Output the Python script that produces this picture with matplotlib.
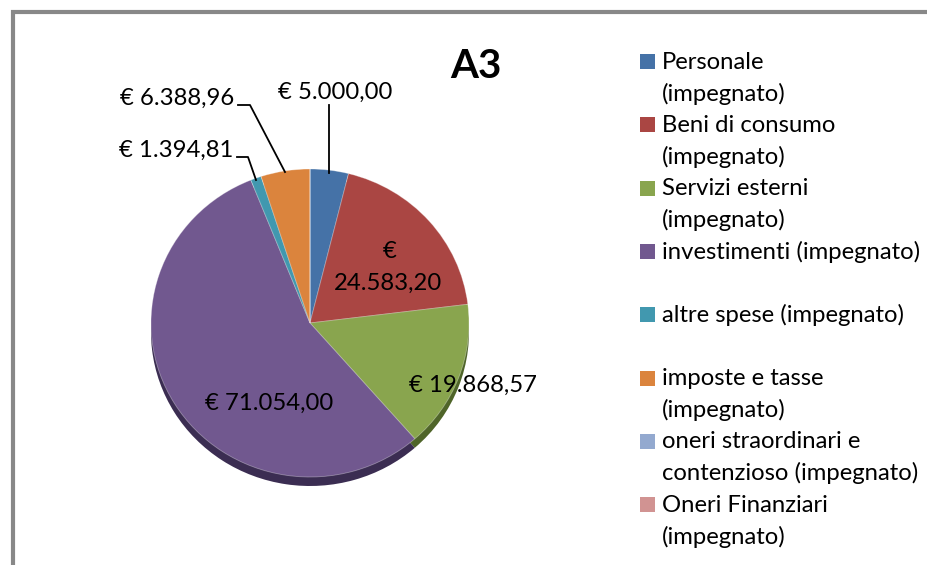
import matplotlib
matplotlib.use("Agg")
import matplotlib.pyplot as plt
from matplotlib.patches import Rectangle

# data (impegnato, in euro)
categories = [
    "Personale\n(impegnato)",
    "Beni di consumo\n(impegnato)",
    "Servizi esterni\n(impegnato)",
    "investimenti (impegnato)",
    "altre spese (impegnato)",
    "imposte e tasse\n(impegnato)",
    "oneri straordinari e\ncontenzioso (impegnato)",
    "Oneri Finanziari\n(impegnato)",
]
values = [5000.00, 24583.20, 19868.57, 71054.00, 1394.81, 6388.96, 0.0, 0.0]
title = "A3"

colors = ["#4572A7", "#AA4643", "#89A54E", "#71588F", "#4198AF", "#DB843D", "#93A9CF", "#D19392"]
dark = ["#2B4669", "#6A2B29", "#4F6529", "#3B2D52", "#245C6B", "#8A5124", "#5C6C85", "#85595A"]

W, H = 928, 565
K = 159 / 154  # squash to get the slight 3D tilt


def py(y):
    # pixel row -> data y
    return (H - y) * K


def eur(v):
    s = f"{v:,.2f}".replace(",", "#").replace(".", ",").replace("#", ".")
    return "€ " + s


plt.rcParams['font.family'] = ['Lato', 'DejaVu Sans']

fig = plt.figure(figsize=(W / 100, H / 100), dpi=100)
ax = fig.add_axes([0, 0, 1, 1])

cx, cy, R = 310, 323, 159
# shadow / side of the pie
ax.pie(values, colors=dark, startangle=90, counterclock=False, radius=R,
       center=(cx, py(cy + 9)), wedgeprops=dict(linewidth=0))
ax.pie(values, colors=colors, startangle=90, counterclock=False, radius=R,
       center=(cx, py(cy)), wedgeprops=dict(linewidth=0.6, edgecolor=(1, 1, 1, 0.35)))

ax.set_aspect('auto')
ax.set_xlim(0, W)
ax.set_ylim(0, H * K)
ax.axis('off')

# frame of the chart area
ax.plot([13, 13, W + 10], [py(H + 10), py(12), py(12)], color="#888888", lw=3,
        solid_joinstyle='miter', clip_on=False)

ax.text(476, py(66), title, ha='center', va='center', fontsize=29, fontweight='bold')

# data labels
fs = 17.2
ax.text(335, py(92), eur(values[0]), ha='center', va='center', fontsize=fs)
ax.plot([329, 329], [py(105), py(173)], color='black', lw=1.3)
ax.text(390, py(252), "€", ha='center', va='center', fontsize=fs)
ax.text(388, py(283), eur(values[1])[2:], ha='center', va='center', fontsize=fs)
ax.text(473, py(385), eur(values[2]), ha='center', va='center', fontsize=fs)
ax.text(269, py(403), eur(values[3]), ha='center', va='center', fontsize=fs)
ax.text(233, py(150), eur(values[4]), ha='right', va='center', fontsize=fs)
ax.plot([237, 248, 256], [py(157), py(157), py(180)], color='black', lw=1.3)
ax.text(234, py(98), eur(values[5]), ha='right', va='center', fontsize=fs)
ax.plot([238, 250, 285], [py(105), py(105), py(172)], color='black', lw=1.3)

# legend (Excel style: marker next to first line)
for i, (lab, col) in enumerate(zip(categories, colors)):
    y0 = 62 + i * 63.3
    ax.add_patch(Rectangle((640, py(y0 + 7)), 15, 15 * K, facecolor=col, edgecolor='none'))
    for j, line in enumerate(lab.split("\n")):
        ax.text(662, py(y0 + j * 31.6), line, ha='left', va='center', fontsize=17.2)

fig.savefig("out.png", dpi=100)
